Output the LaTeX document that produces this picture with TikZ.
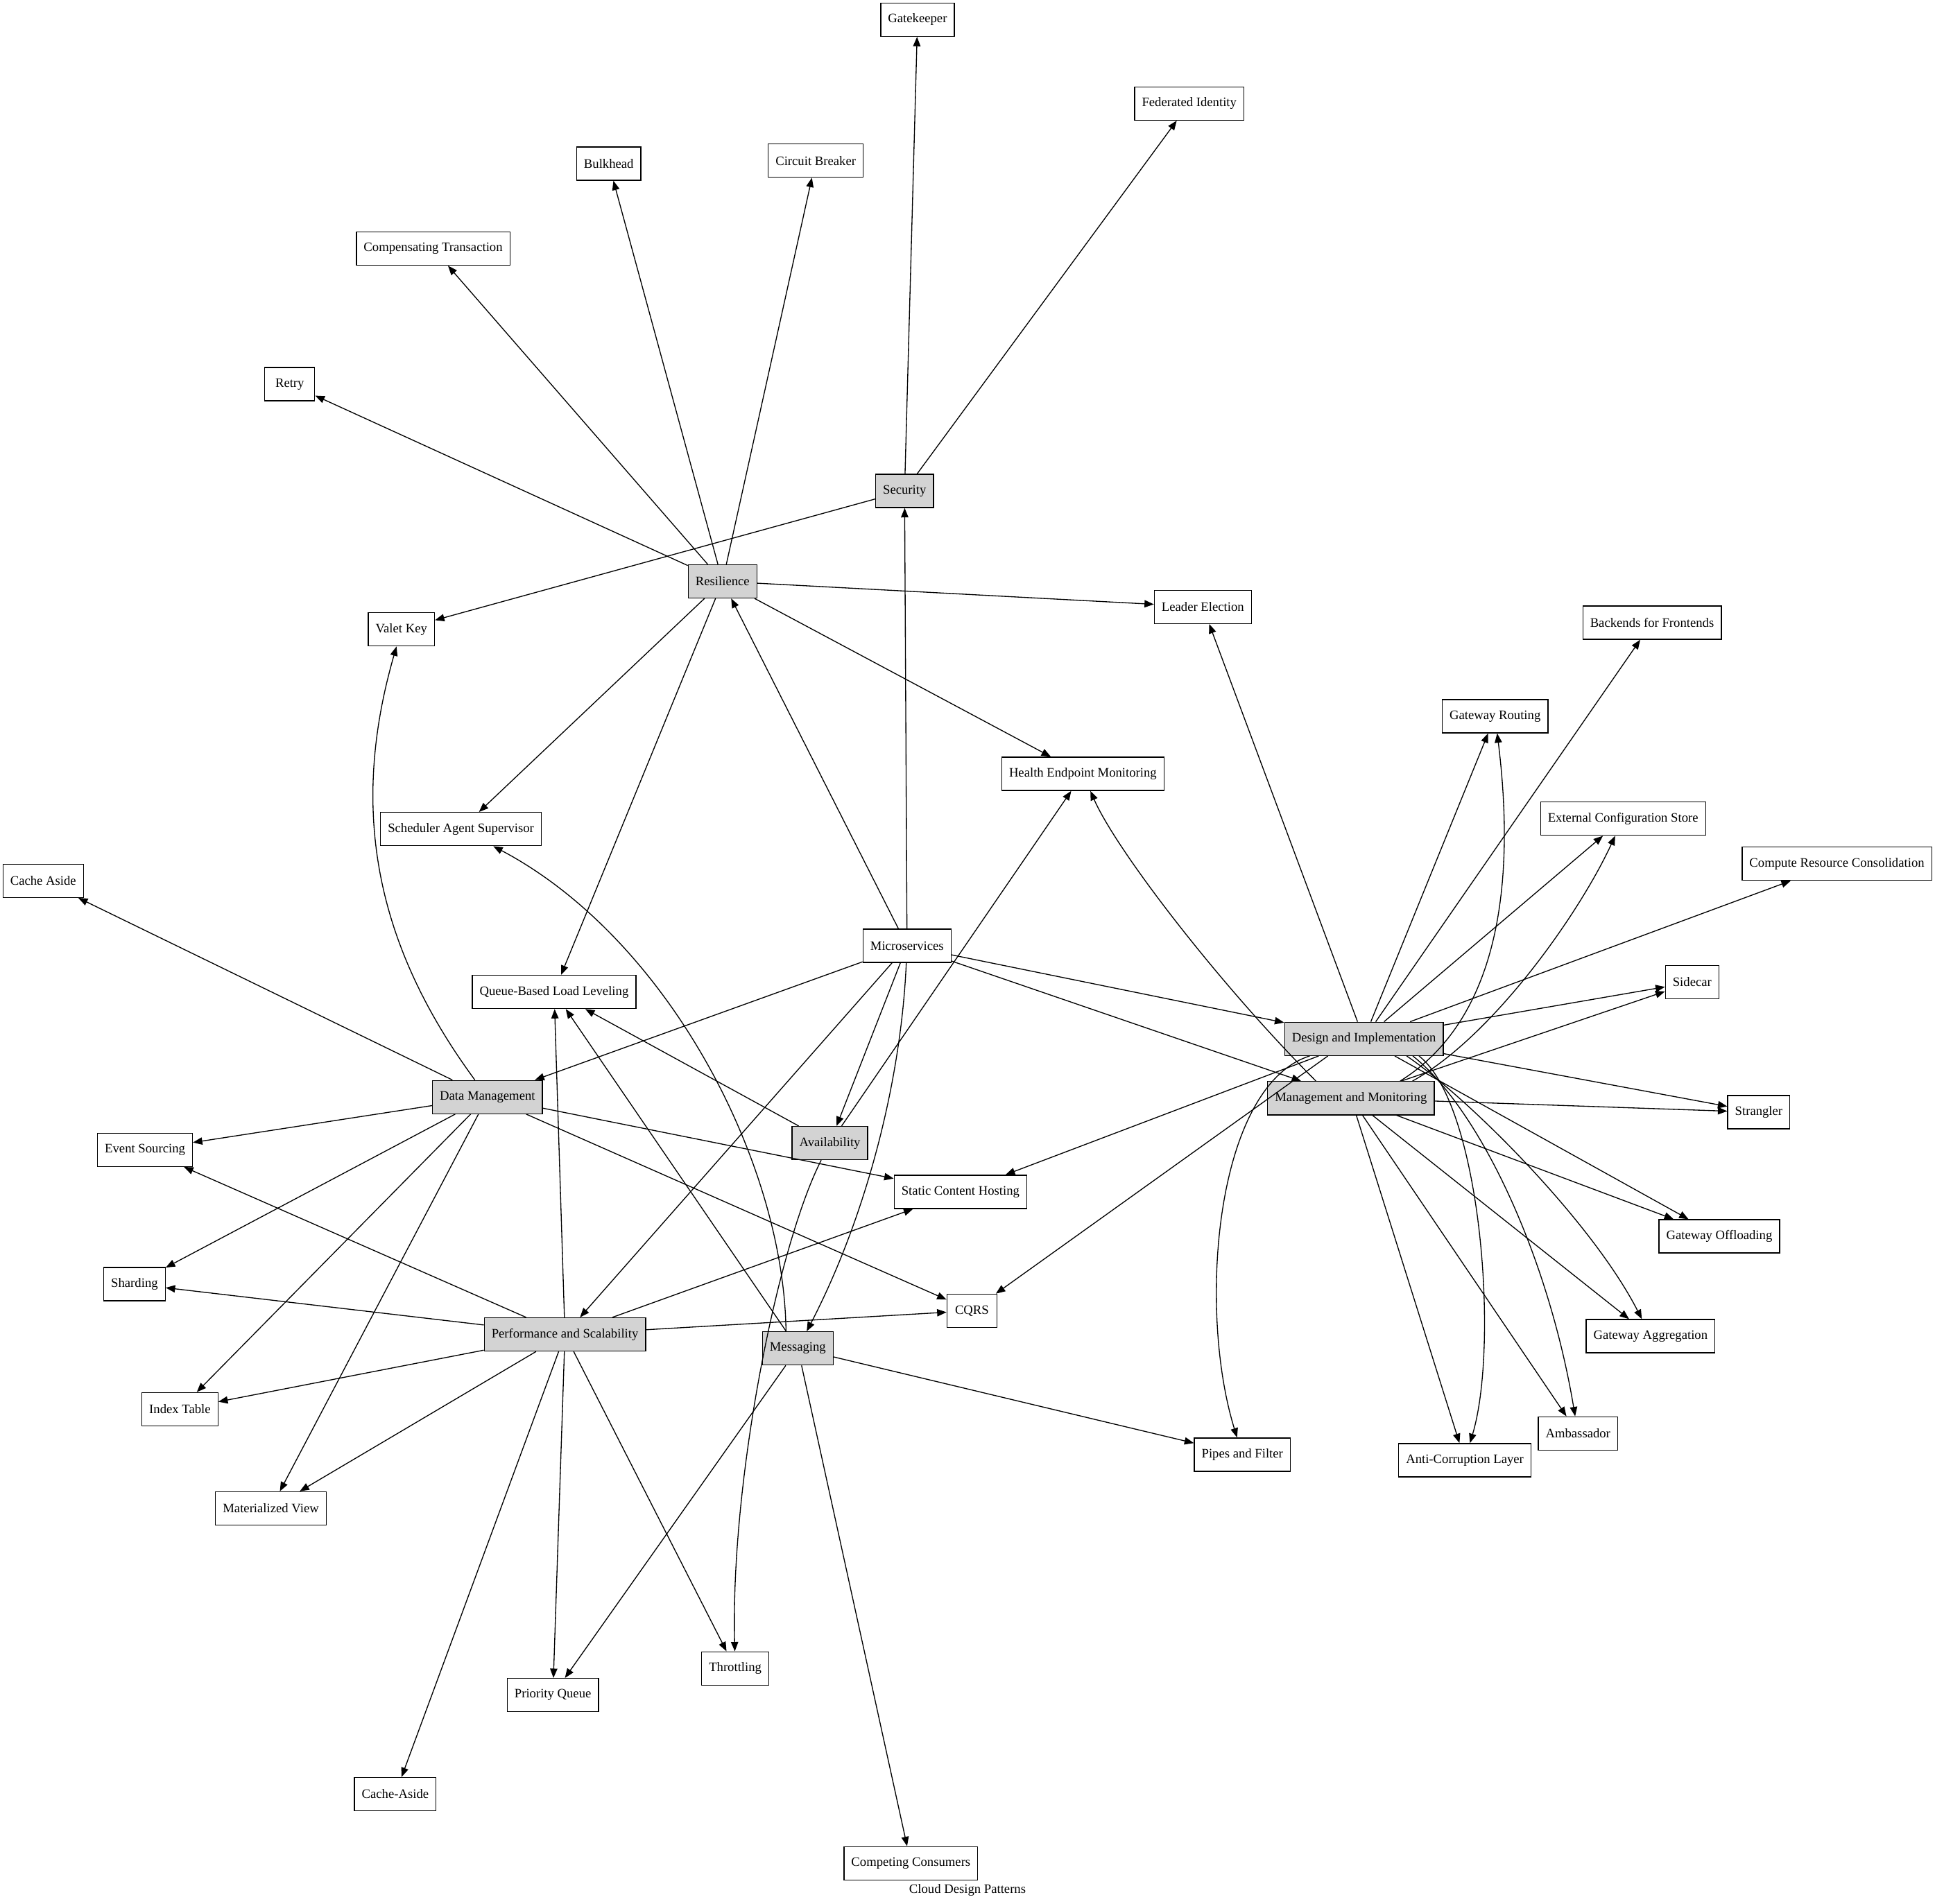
\documentclass[tikz,border=0pt]{standalone}
\usepackage{fontspec}
\setmainfont{Liberation Serif}
\usetikzlibrary{arrows.meta}
\definecolor{catgray}{HTML}{D3D3D3}
\begin{document}
\begin{tikzpicture}[x=1pt,y=-1pt,
  pat/.style={draw, rectangle, line width=0.75pt, minimum height=27pt, minimum width=40.5pt,
    inner xsep=5.94pt, inner ysep=0pt, font=\fontsize{10.5}{12}\selectfont},
  cat/.style={pat, fill=catgray},
  edge/.style={-{Triangle[length=7.6pt,width=5.9pt]}, line width=0.75pt},
  ttl/.style={font=\fontsize{10.5}{12}\selectfont, inner sep=0pt}]
\fill[white] (0,0) rectangle (1568,1543);
\useasboundingbox (0,0) rectangle (1568,1543);
% nodes
\node[pat] (gatekeeper) at (743.5,16) {Gatekeeper};
\node[pat] (fedid) at (963.7,83.9) {Federated Identity};
\node[pat] (bulkhead) at (493.3,132.6) {Bulkhead};
\node[pat] (circuit) at (661,130.2) {Circuit Breaker};
\node[pat] (comptx) at (351,201.5) {Compensating Transaction};
\node[pat] (retry) at (234.8,311.3) {Retry};
\node[cat] (security) at (733,397.9) {Security};
\node[cat] (resilience) at (585.5,471.2) {Resilience};
\node[pat] (leader) at (974.7,491.9) {Leader Election};
\node[pat] (valet) at (325.3,510.1) {Valet Key};
\node[pat] (bff) at (1338.7,504.7) {Backends for Frontends};
\node[pat] (gwrouting) at (1211.5,580.5) {Gateway Routing};
\node[pat] (hem) at (877.5,627.2) {Health Endpoint Monitoring};
\node[pat] (ecs) at (1315.2,663.6) {External Configuration Store};
\node[pat] (sas) at (373.5,672) {Scheduler Agent Supervisor};
\node[pat] (crc) at (1488.5,700) {Compute Resource Consolidation};
\node[pat] (cacheaside) at (35,713.9) {Cache Aside};
\node[pat] (micro) at (735,766.6) {Microservices};
\node[pat] (qbll) at (449,804) {Queue-Based Load Leveling};
\node[pat] (sidecar) at (1371.2,796.1) {Sidecar};
\node[cat] (di) at (1105.2,842) {Design and Implementation};
\node[cat] (mm) at (1094.7,890.1) {Management and Monitoring};
\node[cat] (dm) at (395,889.2) {Data Management};
\node[pat] (strangler) at (1425.2,901.5) {Strangler};
\node[pat] (evsrc) at (117.5,932) {Event Sourcing};
\node[cat] (avail) at (672.5,926.5) {Availability};
\node[pat] (sch) at (778.3,966) {Static Content Hosting};
\node[pat] (gwoff) at (1393.2,1002.1) {Gateway Offloading};
\node[pat] (sharding) at (109,1040.8) {Sharding};
\node[pat] (cqrs) at (787.6,1062.4) {CQRS};
\node[cat] (ps) at (457.8,1081.6) {Performance and Scalability};
\node[cat] (msg) at (646.5,1092.9) {Messaging};
\node[pat] (gwagg) at (1337.5,1083) {Gateway Aggregation};
\node[pat] (idx) at (145.8,1142.2) {Index Table};
\node[pat] (amb) at (1278.7,1161.8) {Ambassador};
\node[pat] (pipes) at (1006.7,1179) {Pipes and Filter};
\node[pat] (acl) at (1187,1183.5) {Anti-Corruption Layer};
\node[pat] (mview) at (219.5,1222.6) {Materialized View};
\node[pat] (throttle) at (595.8,1352.3) {Throttling};
\node[pat] (pq) at (448,1373.9) {Priority Queue};
\node[pat] (cacheaside2) at (320.3,1454.2) {Cache-Aside};
\node[pat] (compcons) at (738.1,1510.2) {Competing Consumers};
\node[ttl] (title) at (784,1532) {Cloud Design Patterns};
% edges: Security
\draw[edge] (security) -- (gatekeeper);
\draw[edge] (security) -- (fedid);
\draw[edge] (security) -- (valet);
% Resilience
\draw[edge] (resilience) -- (bulkhead);
\draw[edge] (resilience) -- (circuit);
\draw[edge] (resilience) -- (comptx);
\draw[edge] (resilience) -- (retry);
\draw[edge] (resilience) -- (leader);
\draw[edge] (resilience) -- (hem);
\draw[edge] (resilience) -- (sas);
\draw[edge] (resilience) -- (qbll);
% Microservices
\draw[edge] (micro) -- (security);
\draw[edge] (micro) -- (resilience);
\draw[edge] (micro) -- (di);
\draw[edge] (micro) -- (mm);
\draw[edge] (micro) -- (dm);
\draw[edge] (micro) -- (avail);
\draw[edge] (micro) -- (ps);
\draw[edge] (micro) .. controls (730,880) and (700,990) .. (msg);
% Design and Implementation
\draw[edge] (di) -- (leader);
\draw[edge] (di) -- (bff);
\draw[edge] (di) -- (gwrouting);
\draw[edge] (di) -- (ecs);
\draw[edge] (di) -- (crc);
\draw[edge] (di) -- (sidecar);
\draw[edge] (di) -- (strangler);
\draw[edge] (di) -- (gwoff);
\draw[edge] ([xshift=-30pt]di.south east) .. controls (1190,890) and (1290,990) .. (gwagg);
\draw[edge] ([xshift=-25pt]di.south east) .. controls (1200,900) and (1255,1020) .. (amb);
\draw[edge] ([xshift=-20pt]di.south east) .. controls (1200,895) and (1215,1090) .. (acl);
\draw[edge] (di) .. controls (985,880) and (970,1060) .. (pipes);
\draw[edge] ([xshift=35.5pt]di.south west) -- (cqrs);
\draw[edge] (di) -- (sch);
% Management and Monitoring
\draw[edge] ([xshift=39.5pt]mm.north west) .. controls (990,800) and (905,690) .. (hem);
\draw[edge] ([xshift=-28pt]mm.north east) .. controls (1225,820) and (1225,690) .. (gwrouting);
\draw[edge] ([xshift=-18pt]mm.north east) .. controls (1210,840) and (1280,740) .. (ecs);
\draw[edge] (mm) -- (sidecar);
\draw[edge] (mm) -- (strangler);
\draw[edge] (mm) -- (gwoff);
\draw[edge] (mm) -- (gwagg);
\draw[edge] (mm) -- (amb);
\draw[edge] (mm) -- (acl);
% Data Management
\draw[edge] (dm) -- (cacheaside);
\draw[edge] (dm) .. controls (300,760) and (285,650) .. (valet);
\draw[edge] (dm) -- (evsrc);
\draw[edge] (dm) -- (sharding);
\draw[edge] (dm) -- (idx);
\draw[edge] (dm) -- (mview);
\draw[edge] (dm) -- (sch);
\draw[edge] (dm) -- (cqrs);
% Availability
\draw[edge] (avail) -- (qbll);
\draw[edge] (avail) -- (hem);
\draw[edge] (avail) .. controls (630,1010) and (592,1200) .. (throttle);
% Performance and Scalability
\draw[edge] (ps) -- (qbll);
\draw[edge] (ps) -- (evsrc);
\draw[edge] (ps) -- (sharding);
\draw[edge] (ps) -- (idx);
\draw[edge] (ps) -- (mview);
\draw[edge] (ps) -- (sch);
\draw[edge] (ps) -- (cqrs);
\draw[edge] (ps) -- (pq);
\draw[edge] (ps) -- (throttle);
\draw[edge] (ps) -- (cacheaside2);
% Messaging
\draw[edge] (msg) -- (qbll);
\draw[edge] ([xshift=19.5pt]msg.north west) .. controls (635,940) and (540,760) .. (sas);
\draw[edge] (msg) -- (pipes);
\draw[edge] (msg) -- (pq);
\draw[edge] (msg) -- (compcons);
\end{tikzpicture}
\end{document}
